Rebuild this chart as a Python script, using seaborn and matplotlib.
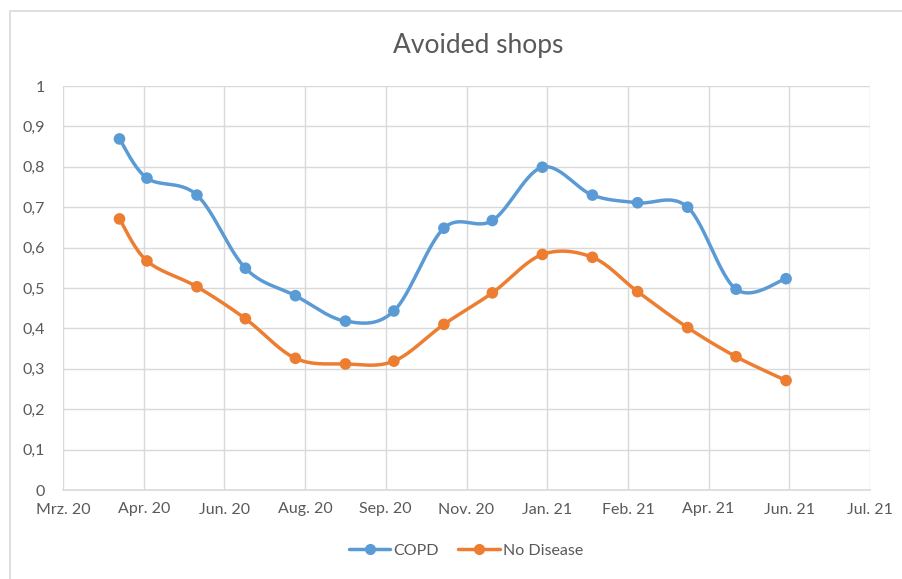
import numpy as np
import pandas as pd
import matplotlib
matplotlib.use("Agg")
import matplotlib.pyplot as plt
import matplotlib.dates as mdates
from matplotlib.lines import Line2D
from matplotlib.patches import Rectangle
import seaborn as sns

# data
dates = pd.to_datetime([
    "2020-04-13", "2020-04-30", "2020-05-31", "2020-06-30", "2020-07-31",
    "2020-08-31", "2020-09-30", "2020-10-31", "2020-11-30", "2020-12-31",
    "2021-01-31", "2021-02-28", "2021-03-31", "2021-04-30", "2021-05-31",
])
copd = [0.869, 0.772, 0.730, 0.549, 0.481, 0.418, 0.443, 0.648, 0.667,
        0.799, 0.730, 0.711, 0.700, 0.497, 0.523]
no_disease = [0.671, 0.567, 0.503, 0.424, 0.326, 0.312, 0.319, 0.410, 0.488,
              0.583, 0.576, 0.491, 0.402, 0.330, 0.271]
series_names = ["COPD", "No Disease"]
colors = ["#5B9BD5", "#ED7D31"]

month_de = ["Jan.", "Feb.", "Mrz.", "Apr.", "Mai.", "Jun.", "Jul.",
            "Aug.", "Sep.", "Okt.", "Nov.", "Dez."]
axis_start = pd.Timestamp("2020-03-09")
tick_dates = [axis_start + pd.Timedelta(days=50 * k) for k in range(11)]

df = pd.DataFrame({
    "date": list(dates) * 2,
    "value": copd + no_disease,
    "series": [series_names[0]] * len(dates) + [series_names[1]] * len(dates),
})


def smooth_curve(x, y, n=30):
    # Excel-like smoothed line: cubic Bezier segments with Catmull-Rom handles
    x = np.asarray(x, float)
    y = np.asarray(y, float)
    px = np.concatenate([[x[0]], x, [x[-1]]])
    py = np.concatenate([[y[0]], y, [y[-1]]])
    t = np.linspace(0, 1, n)[:, None]
    out_x, out_y = [], []
    for i in range(1, len(px) - 2):
        p0 = np.array([px[i], py[i]])
        p3 = np.array([px[i + 1], py[i + 1]])
        c1 = p0 + (np.array([px[i + 1], py[i + 1]]) - np.array([px[i - 1], py[i - 1]])) / 6
        c2 = p3 - (np.array([px[i + 2], py[i + 2]]) - np.array([px[i], py[i]])) / 6
        seg = ((1 - t) ** 3) * p0 + 3 * ((1 - t) ** 2) * t * c1 + 3 * (1 - t) * t ** 2 * c2 + t ** 3 * p3
        out_x.extend(seg[:, 0])
        out_y.extend(seg[:, 1])
    return np.array(out_x), np.array(out_y)


sns.set_theme(style="white")
plt.rcParams["font.family"] = ["Lato", "DejaVu Sans"]
text_col = "#595959"
grid_col = "#D9D9D9"

fig = plt.figure(figsize=(9.02, 5.79), dpi=100)
ax = fig.add_axes([63 / 902, 1 - 490 / 579, (870 - 63) / 902, (490 - 86) / 579])

# chart area frame
fig.patches.append(Rectangle((10 / 902, -0.1), 1.2, 1 - 11 / 579 + 0.1,
                             transform=fig.transFigure, fill=False,
                             edgecolor="#D9D9D9", linewidth=1.2))

for name, col in zip(series_names, colors):
    sub = df[df["series"] == name]
    cx, cy = smooth_curve(mdates.date2num(sub["date"]), sub["value"])
    ax.plot(cx, cy, color=col, linewidth=2.5, solid_capstyle="round", zorder=3)

sns.scatterplot(data=df, x="date", y="value", hue="series", palette=colors,
                s=70, edgecolor="none", legend=False, ax=ax, zorder=4)

ax.set_xlim(mdates.date2num(tick_dates[0]), mdates.date2num(tick_dates[-1]))
ax.set_ylim(0, 1)
ax.set_xticks(mdates.date2num(tick_dates))
ax.set_xticklabels([f"{month_de[d.month - 1]} {d.year % 100:02d}" for d in tick_dates])
yt = np.round(np.arange(0, 1.01, 0.1), 1)
ax.set_yticks(yt)
ax.set_yticklabels(["0" if v == 0 else "1" if v == 1 else f"{v:.1f}".replace(".", ",") for v in yt])

ax.grid(True, color=grid_col, linewidth=1.0)
ax.set_axisbelow(True)
for side in ["top", "right", "left"]:
    ax.spines[side].set_visible(False)
ax.spines["bottom"].set_color(grid_col)
ax.spines["bottom"].set_linewidth(1.2)
ax.tick_params(axis="both", length=0, colors=text_col, labelsize=11.5)
ax.tick_params(axis="y", pad=13)
ax.tick_params(axis="x", pad=9)
ax.set_xlabel("")
ax.set_ylabel("")

fig.text(478 / 902, 1 - 46 / 579, "Avoided shops", ha="center", va="center",
         fontsize=19, color=text_col)

handles = [Line2D([0], [0], color=c, linewidth=2.5, marker="o", markersize=7)
           for c in colors]
fig.legend(handles, series_names, loc="center", bbox_to_anchor=(466 / 902, 1 - 551 / 579),
           ncol=2, frameon=False, fontsize=11.5, labelcolor=text_col,
           handlelength=2.6, handletextpad=0.2, columnspacing=1.2)

fig.savefig("out.png", dpi=100)
